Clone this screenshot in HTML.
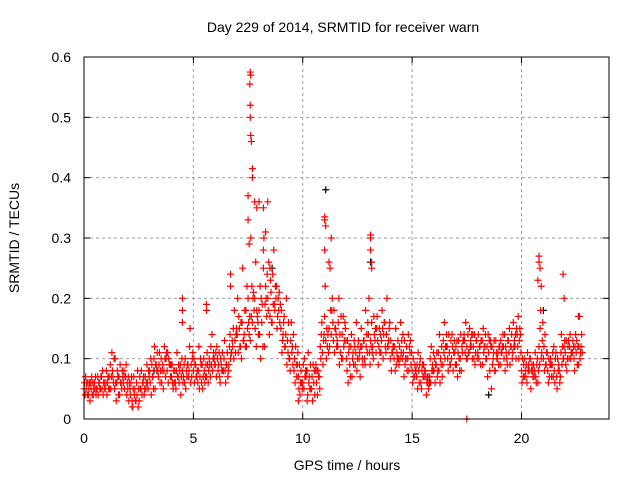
<!DOCTYPE html>
<html><head><meta charset="utf-8"><style>
body{margin:0;background:#fff;}
svg{display:block;font-family:"Liberation Sans",sans-serif;}
</style></head><body>
<svg id="chart" width="640" height="480">
<rect width="640" height="480" fill="#fff"/>
<text x="343" y="32" font-size="14" text-anchor="middle">Day 229 of 2014, SRMTID for receiver warn</text>
<text x="347" y="470" font-size="14" text-anchor="middle">GPS time / hours</text>
<text transform="translate(19,238) rotate(-90)" font-size="14" text-anchor="middle">SRMTID / TECUs</text>
<g id="grid"></g>
<g id="ticks"></g>
<g id="pts"></g>
<rect x="84" y="57" width="525" height="362" fill="none" stroke="#000" stroke-width="1"/>
</svg>
<script>
const xTicks=[0,5,10,15,20];
const yTicks=[0,0.1,0.2,0.3,0.4,0.5,0.6];
const yTickLabels=["0","0.1","0.2","0.3","0.4","0.5","0.6"];
const stepHours=0.2;
const seriesA=[.05,.04,.06,.05,.07,.06,.09,.05,.07,.06,.05,.03,.06,.05,.07,.08,.10,.07,.09,.08,.07,.05,.09,.06,.08,.08,.06,.09,.07,.12,.09,.07,.10,.08,.12,.14,.10,.18,.13,.20,.18,.25,.20,.16,.22,.15,.12,.10,.08,.07,.06,.08,.05,.09,.12,.17,.15,.13,.12,.14,.10,.12,.09,.11,.13,.14,.12,.17,.13,.11,.10,.12,.09,.11,.10,.08,.07,.06,.08,.07,.08,.11,.09,.12,.10,.12,.10,.13,.11,.12,.11,.13,.10,.12,.08,.12,.10,.13,.11,.14,.08,.07,.10,.08,.12,.10,.08,.09,.07,.11,.11,.12,.10,.09];
const seriesB=[.06,.05,.04,.07,.05,.08,.05,.10,.04,.08,.07,.02,.04,.08,.05,.06,.12,.09,.05,.11,.09,.08,.04,.10,.12,.10,.08,.05,.11,.09,.11,.06,.13,.09,.15,.20,.16,.12,.30,.15,.14,.30,.18,.24,.15,.18,.14,.08,.10,.05,.09,.04,.07,.06,.10,.22,.12,.18,.16,.10,.08,.14,.11,.07,.10,.20,.10,.13,.18,.14,.13,.08,.12,.07,.14,.06,.09,.05,.07,.10,.10,.08,.13,.10,.14,.09,.14,.11,.15,.10,.14,.09,.12,.05,.13,.09,.14,.11,.16,.12,.06,.09,.05,.11,.09,.12,.06,.11,.05,.14,.09,.14,.08,.12];
const seriesC=[.04,.06,.05,.04,.08,.04,.07,.06,.09,.05,.03,.05,.08,.04,.06,.10,.05,.11,.08,.06,.06,.11,.07,.05,.15,.06,.12,.07,.09,.14,.07,.10,.08,.12,.10,.11,.25,.22,.17,.26,.22,.12,.26,.19,.17,.11,.20,.13,.06,.09,.05,.11,.03,.08,.14,.13,.25,.11,.20,.17,.13,.07,.16,.12,.09,.11,.17,.09,.15,.20,.08,.15,.10,.13,.08,.10,.05,.08,.04,.06,.06,.14,.11,.08,.12,.13,.08,.16,.12,.14,.10,.15,.07,.12,.11,.13,.08,.15,.12,.17,.10,.06,.08,.07,.15,.08,.10,.07,.10,.09,.13,.10,.12,.17];
const seriesD=[.07,.03,.06,.06,.04,.06,.11,.03,.06,.07,.06,.07,.02,.06,.09,.04,.09,.06,.12,.10,.05,.07,.10,.08,.06,.09,.05,.10,.06,.08,.12,.09,.06,.14,.18,.17,.13,.15,.22,.12,.10,.19,.14,.28,.20,.13,.09,.16,.12,.04,.10,.06,.09,.04,.16,.10,.18,.15,.09,.12,.06,.10,.08,.15,.18,.09,.14,.12,.10,.12,.11,.09,.16,.09,.12,.07,.11,.09,.06,.12,.09,.06,.16,.14,.08,.07,.12,.10,.13,.09,.12,.11,.14,.09,.10,.11,.12,.09,.13,.10,.07,.11,.09,.06,.18,.14,.07,.12,.08,.12,.08,.11,.14,.10];
const seriesE=[.05,.06,.05,.06,.06,.07,.08,.06,.06,.07,.05,.04,.05,.06,.06,.09,.09,.08,.10,.09,.08,.07,.08,.07,.09,.09,.07,.08,.08,.10,.10,.08,.09,.10,.13,.15,.13,.20,.16,.18,.20,.22,.17,.19,.18,.14,.13,.11,.09,.06,.07,.07,.06,.08,.11,.15,.14,.15,.14,.13,.11,.11,.10,.12,.12,.13,.13,.15,.14,.12,.11,.11,.11,.10,.11,.07,.08,.07,.07,.08,.09,.10,.10,.11,.11,.11,.11,.12,.12,.11,.12,.12,.11,.10,.10,.11,.11,.12,.12,.13,.09,.08,.08,.09,.10,.09,.09,.08,.09,.10,.10,.11,.11,.11];
const seriesF=[.06,.05,.07,.05,.06,.05,.07,.08,.05,.09,.04,.05,.03,.07,.05,.07,.08,.10,.07,.09,.06,.09,.06,.09,.07,.07,.10,.06,.10,.11,.08,.11,.09,.11,.11,.12,.14,.16,.20,.17,.16,.20,.23,.18,.21,.16,.11,.12,.07,.08,.08,.05,.08,.07,.09,.12,.18,.14,.11,.16,.12,.09,.12,.10,.14,.12,.15,.11,.16,.13,.12,.10,.13,.10,.13,.09,.06,.09,.06,.09,.11,.09,.12,.09,.13,.13,.13,.10,.14,.13,.09,.12,.13,.11,.11,.12,.10,.12,.14,.15,.07,.09,.07,.10,.11,.09,.10,.06,.08,.10,.12,.11,.13,.12];
const seriesG=[.04,.07,.04,.05,.05,.07,.06,.07,.08,.04,.06,.03,.07,.04,.08,.07,.11,.06,.10,.07,.08,.06,.07,.09,.10,.07,.09,.07,.09,.10,.09,.08,.11,.11,.14,.12,.18,.14,.21,.16,.19,.17,.21,.22,.16,.17,.16,.09,.09,.06,.07,.09,.04,.07,.13,.14,.20,.12,.17,.15,.09,.13,.13,.09,.11,.16,.11,.14,.16,.15,.12,.13,.10,.12,.09,.08,.09,.07,.05,.08,.07,.12,.12,.09,.11,.10,.13,.14,.10,.13,.13,.14,.08,.13,.09,.14,.09,.14,.10,.14,.10,.08,.09,.06,.13,.11,.09,.10,.06,.12,.13,.13,.09,.14];
const seriesH=[.06,.04,.05,.07,.05,.05,.10,.04,.07,.06,.07,.03,.05,.05,.07,.05,.08,.08,.11,.09,.06,.08,.09,.07,.11,.08,.06,.09,.07,.09,.11,.08,.07,.13,.15,.16,.12,.17,.18,.14,.12,.24,.16,.20,.19,.12,.10,.14,.11,.05,.08,.05,.08,.05,.14,.11,.16,.13,.10,.13,.07,.12,.10,.13,.16,.11,.15,.11,.12,.16,.10,.10,.14,.08,.11,.08,.10,.08,.07,.11,.08,.07,.14,.13,.09,.08,.14,.11,.14,.10,.13,.10,.13,.08,.12,.12,.13,.10,.15,.11,.08,.10,.07,.08,.16,.11,.07,.11,.07,.13,.10,.12,.12,.11];
const spikeTimes=[4.5,4.5,4.5,5.6,5.6,6.7,6.7,7.5,7.5,7.55,7.6,7.62,7.58,7.6,7.6,7.62,7.65,7.7,7.7,7.8,7.9,8.0,8.2,8.3,8.4,8.2,8.5,11.0,11.0,11.05,11.0,11.2,11.3,13.1,13.1,13.1,13.15,13.15,20.8,20.8,20.85,20.75,20.9,21.9,21.95,22.6,9.8,10.2,2.2,17.5];
const spikeValues=[.20,.18,.16,.19,.18,.24,.22,.37,.33,.29,.575,.57,.555,.52,.50,.47,.46,.415,.40,.36,.35,.36,.35,.31,.36,.28,.25,.33,.335,.32,.28,.26,.30,.305,.30,.28,.26,.25,.27,.26,.25,.23,.22,.24,.20,.17,.03,.03,.02,0];
const blackTimes=[11.05,13.1,8.6,21.0,3.2,15.8,18.5];
const blackValues=[.38,.26,.25,.18,.08,.06,.04];

const X=t=>84+t*(525/24);
const Y=v=>419-v*(362/0.6);
const NS="http://www.w3.org/2000/svg";
const grid=document.getElementById('grid'),ticks=document.getElementById('ticks'),pts=document.getElementById('pts');
function mk(tag,attrs,parent){const e=document.createElementNS(NS,tag);for(const k in attrs)e.setAttribute(k,attrs[k]);parent.appendChild(e);return e;}
xTicks.forEach(t=>{
  if(t>0){const g=mk('line',{x1:X(t),x2:X(t),y1:57,y2:419,stroke:'#a0a0a0','stroke-dasharray':'3,3'},grid);
  
  }
  mk('line',{x1:X(t),x2:X(t),y1:419,y2:413,stroke:'#000'},ticks);
  mk('line',{x1:X(t),x2:X(t),y1:57,y2:63,stroke:'#000'},ticks);
  const l=mk('text',{x:X(t),y:443,'font-size':14,'text-anchor':'middle'},ticks);l.textContent=t;
  
  
});
yTicks.forEach((v,i)=>{
  if(i>0&&i<yTicks.length-1){const g=mk('line',{x1:84,x2:609,y1:Y(v),y2:Y(v),stroke:'#a0a0a0','stroke-dasharray':'3,3'},grid);
  
  }
  mk('line',{x1:84,x2:90,y1:Y(v),y2:Y(v),stroke:'#000'},ticks);
  mk('line',{x1:609,x2:603,y1:Y(v),y2:Y(v),stroke:'#000'},ticks);
  const l=mk('text',{x:71,y:Y(v)+5,'font-size':14,'text-anchor':'end'},ticks);l.textContent=yTickLabels[i];
  
  
});
function plus(t,v,col){
  const x=X(t),y=Y(v);
  const p=mk('path',{d:`M${x-3.5} ${y}h7M${x} ${y-3.5}v7`,stroke:col,'stroke-width':1.2,fill:'none'},pts);
  
  
}
blackTimes.forEach((t,i)=>plus(t,blackValues[i],'#000'));
[seriesA,seriesB,seriesC,seriesD,seriesE,seriesF,seriesG,seriesH].forEach((s,k)=>{
  s.forEach((v,i)=>plus(i*stepHours+k*0.025,v,'#ff0000'));
});
spikeTimes.forEach((t,i)=>plus(t,spikeValues[i],'#ff0000'));
</script>
</body></html>
